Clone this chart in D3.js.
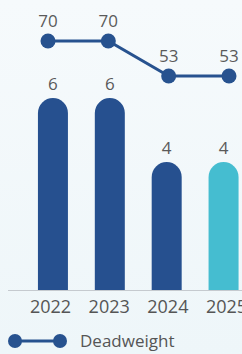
<!DOCTYPE html>
<html>
<head>
<meta charset="utf-8">
<script src="https://cdn.jsdelivr.net/npm/d3@7"></script>
<style>
  html, body { margin: 0; padding: 0; }
  body { width: 242px; height: 354px; overflow: hidden; background: #f1f7fa; }
  svg { display: block; font-family: "Open Sans", "Noto Sans", sans-serif; }
</style>
</head>
<body>
<svg id="chart" width="242" height="354"></svg>
<script>
// data
const years = ["2022", "2023", "2024", "2025"];
const barValues = [6, 6, 4, 4];
const deadweight = [70, 70, 53, 53];
const barColors = ["#26508f", "#26508f", "#26508f", "#45bdd0"];

const svg = d3.select("#chart");
const W = 242, H = 354;
const baseY = 290;

// background gradient
const defs = svg.append("defs");
const grad = defs.append("linearGradient").attr("id", "bg").attr("x1", 0).attr("y1", 0).attr("x2", 0).attr("y2", 1);
grad.append("stop").attr("offset", "0%").attr("stop-color", "#f6fafc");
grad.append("stop").attr("offset", "100%").attr("stop-color", "#eef6f9");
svg.append("rect").attr("width", W).attr("height", H).attr("fill", "url(#bg)");

// scales
const xBar = d3.scaleBand().domain(years).range([24.5, 252]).paddingInner(0.47).paddingOuter(0.235);
const xLine = d3.scalePoint().domain(years).range([48, 229]);
const xAxisScale = d3.scalePoint().domain(years).range([50, 226]);
const yBar = d3.scaleLinear().domain([0, 6]).range([baseY, 98]);
const yLine = d3.scaleLinear().domain([53, 70]).range([76, 41]);

const bw = 30;
const r = bw / 2;

// bars with rounded tops
svg.selectAll("path.bar")
  .data(barValues)
  .enter()
  .append("path")
  .attr("class", "bar")
  .attr("fill", (d, i) => barColors[i])
  .attr("d", (d, i) => {
    const cx = xBar(years[i]) + xBar.bandwidth() / 2;
    const x0 = cx - r, x1 = cx + r;
    const top = yBar(d);
    return "M" + x0 + "," + baseY + " L" + x0 + "," + (top + r) +
      " A" + r + "," + r + " 0 0 1 " + x1 + "," + (top + r) +
      " L" + x1 + "," + baseY + " Z";
  });

// bar labels
svg.selectAll("text.barLabel")
  .data(barValues)
  .enter()
  .append("text")
  .attr("class", "barLabel")
  .attr("x", (d, i) => xBar(years[i]) + xBar.bandwidth() / 2)
  .attr("y", d => yBar(d) - 8)
  .attr("text-anchor", "middle")
  .attr("fill", "#5a5a5a")
  .style("font-size", "17px")
  .text(d => d);

// baseline
svg.append("line")
  .attr("x1", 8).attr("x2", W)
  .attr("y1", baseY + 0.5).attr("y2", baseY + 0.5)
  .attr("stroke", "#c5cacf")
  .attr("stroke-width", 1);

// x axis
const axis = svg.append("g")
  .attr("transform", "translate(0," + baseY + ")")
  .call(d3.axisBottom(xAxisScale).tickSize(0).tickPadding(10));
axis.select(".domain").remove();
axis.selectAll("text")
  .attr("fill", "#555")
  .style("font-size", "18px")
  .style("font-family", "'Open Sans', 'Noto Sans', sans-serif");

// deadweight line
const line = d3.line()
  .x((d, i) => xLine(years[i]))
  .y(d => yLine(d));

svg.append("path")
  .attr("d", line(deadweight))
  .attr("fill", "none")
  .attr("stroke", "#27528f")
  .attr("stroke-width", 3);

svg.selectAll("circle.pt")
  .data(deadweight)
  .enter()
  .append("circle")
  .attr("class", "pt")
  .attr("cx", (d, i) => xLine(years[i]))
  .attr("cy", d => yLine(d))
  .attr("r", 7.5)
  .attr("fill", "#27528f");

svg.selectAll("text.ptLabel")
  .data(deadweight)
  .enter()
  .append("text")
  .attr("class", "ptLabel")
  .attr("x", (d, i) => xLine(years[i]))
  .attr("y", d => yLine(d) - 14)
  .attr("text-anchor", "middle")
  .attr("fill", "#5a5a5a")
  .style("font-size", "17px")
  .text(d => d);

// legend
const lg = svg.append("g").attr("transform", "translate(0,341)");
lg.append("line")
  .attr("x1", 15).attr("x2", 60)
  .attr("stroke", "#27528f").attr("stroke-width", 3);
lg.selectAll("circle")
  .data([15, 60])
  .enter()
  .append("circle")
  .attr("cx", d => d)
  .attr("r", 7)
  .attr("fill", "#27528f");
lg.append("text")
  .attr("x", 80)
  .attr("y", 6)
  .attr("fill", "#555")
  .style("font-size", "17px")
  .text("Deadweight");
</script>
</body>
</html>
